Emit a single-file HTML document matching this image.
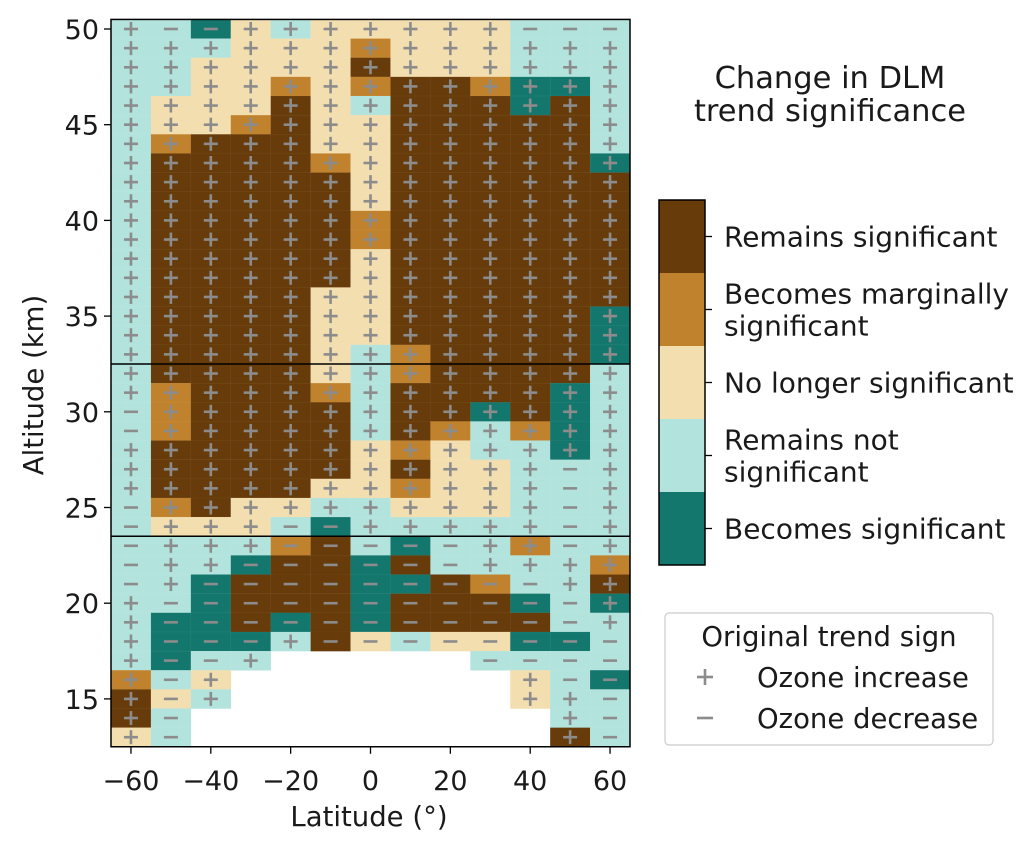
<!DOCTYPE html>
<html><head><meta charset="utf-8"><style>
body{margin:0;background:#fff;}
svg text{font-family:"DejaVu Sans","Liberation Sans",sans-serif;fill:#1a1a1a;}
</style></head><body>
<svg id="chart" width="1033" height="848" viewBox="0 0 1033 848"></svg>
<script>
const latitudes = [-60,-50,-40,-30,-20,-10,0,10,20,30,40,50,60];
const altitudes = [50,49,48,47,46,45,44,43,42,41,40,39,38,37,36,35,34,33,32,31,30,29,28,27,26,25,24,23,22,21,20,19,18,17,16,15,14,13];
const cellRows = [
"R+ R- B- N+ R+ N+ N+ N+ N+ N+ R- R- R-",
"R+ R+ R+ N+ N+ N+ M+ N+ N+ N+ R+ R+ R+",
"R+ R+ N+ N+ N+ N+ D+ N+ N+ N+ R+ R+ R+",
"R+ R+ N+ N+ M+ N+ M+ D+ D+ M+ B+ B+ R+",
"R+ N+ N+ N+ D+ N+ R+ D+ D+ D+ B+ D+ R+",
"R+ N+ N+ M+ D+ N+ N+ D+ D+ D+ D+ D+ R+",
"R+ M+ D+ D+ D+ N+ N+ D+ D+ D+ D+ D+ R+",
"R+ D+ D+ D+ D+ M+ N+ D+ D+ D+ D+ D+ B+",
"R+ D+ D+ D+ D+ D+ N+ D+ D+ D+ D+ D+ D+",
"R+ D+ D+ D+ D+ D+ N+ D+ D+ D+ D+ D+ D+",
"R+ D+ D+ D+ D+ D+ M+ D+ D+ D+ D+ D+ D+",
"R+ D+ D+ D+ D+ D+ M+ D+ D+ D+ D+ D+ D+",
"R+ D+ D+ D+ D+ D+ N+ D+ D+ D+ D+ D+ D+",
"R+ D+ D+ D+ D+ D+ N+ D+ D+ D+ D+ D+ D+",
"R+ D+ D+ D+ D+ N+ N+ D+ D+ D+ D+ D+ D+",
"R+ D+ D+ D+ D+ N+ N+ D+ D+ D+ D+ D+ B+",
"R+ D+ D+ D+ D+ N+ N+ D+ D+ D+ D+ D+ B+",
"R+ D+ D+ D+ D+ N+ R+ M+ D+ D+ D+ D+ B+",
"R+ D+ D+ D+ D+ N+ R+ M+ D+ D+ D+ D+ R+",
"R+ M+ D+ D+ D+ M+ R+ D+ D+ D+ D+ B+ R+",
"R- M+ D+ D+ D+ D+ R+ D+ D+ B+ D+ B+ R+",
"R- M+ D+ D+ D+ D+ R+ D+ M+ R+ M+ B+ R+",
"R+ D+ D+ D+ D+ D+ N+ M+ N+ R+ R+ B+ R+",
"R+ D+ D+ D+ D+ D+ N+ D+ N+ N+ R+ R- R+",
"R+ D+ D+ D+ D+ N+ N+ M+ N+ N+ R+ R- R+",
"R- M+ D+ N+ N+ R+ R+ N+ N+ N+ R+ R- R+",
"R- N+ N+ N+ R- B- R+ R+ R+ R+ R+ R- R+",
"R- R+ R+ R+ M- D- R- B- R- R+ M+ R- R+",
"R- R+ R+ B- D- D- B- D- R- R+ R+ R+ M+",
"R- R+ B- D- D- D- B- B- D- M- R- R+ D+",
"R+ R- B- D- D- D- B- D- D- D- B- R- B+",
"R+ B- B- D- B- D- B- D- D- D- D- R- R+",
"R+ B- B- B- R+ D- N- R- N- N- B- B- R-",
"R+ B- R- R+ __ __ __ __ __ R- R- R- R-",
"M+ R- N+ __ __ __ __ __ __ __ N+ R- B-",
"D+ N- R+ __ __ __ __ __ __ __ N+ R+ R-",
"D+ R- __ __ __ __ __ __ __ __ __ R+ R-",
"N+ R- __ __ __ __ __ __ __ __ __ D+ R-"
];
const xTicks = [-60,-40,-20,0,20,40,60];
const yTicks = [15,20,25,30,35,40,45,50];
const legendLabels = [["Remains significant"],["Becomes marginally","significant"],["No longer significant"],["Remains not","significant"],["Becomes significant"]];
const legendCodes = ["D","M","N","R","B"];
const colors = {D:"#673b0a",M:"#c0822d",N:"#f3deaf",R:"#b3e3dd",B:"#14776d"};

const NS="http://www.w3.org/2000/svg";
const svg=document.getElementById('chart');
function mk(tag,attrs,parent){const e=document.createElementNS(NS,tag);for(const k in attrs)e.setAttribute(k,attrs[k]);(parent||svg).appendChild(e);return e;}
const X0=111,X1=630,LAT0=-65,LAT1=65;
const xs=v=>X0+(v-LAT0)/(LAT1-LAT0)*(X1-X0);
const ys=v=>29+(50-v)*19.14;
const gCells=mk('g',{});


cellRows.forEach((row,ri)=>{
  row.split(' ').forEach((tok,ci)=>{
    if(tok==='__')return;
    const lat=latitudes[ci],alt=altitudes[ri];
    const x=xs(lat-5),y=ys(alt+0.5),w=xs(lat+5)-x,h=ys(alt-0.5)-y;
    const r=mk('rect',{x:x,y:y,width:w+0.3,height:h+0.3,fill:colors[tok[0]],stroke:'rgba(255,255,255,0.08)','stroke-width':0.5},gCells);
    
    
    const cx=xs(lat),cy=ys(alt);
    mk('line',{x1:cx-7,y1:cy,x2:cx+7,y2:cy,stroke:'#8c8c8c','stroke-width':2.6},gCells);
    if(tok[1]==='+')mk('line',{x1:cx,y1:cy-7,x2:cx,y2:cy+7,stroke:'#8c8c8c','stroke-width':2.6},gCells);
  });
});
[32.5,23.5].forEach(a=>{const l=mk('line',{x1:X0,x2:X1,y1:ys(a),y2:ys(a),stroke:'#000','stroke-width':1.5});
});
const frame=mk('rect',{x:X0,y:ys(50.5),width:X1-X0,height:ys(12.5)-ys(50.5),fill:'none',stroke:'#000','stroke-width':1.5});

xTicks.forEach(t=>{const x=xs(t);mk('line',{x1:x,x2:x,y1:ys(12.5),y2:ys(12.5)+7,stroke:'#000','stroke-width':1.3});
const tx=mk('text',{x:x,y:790,'text-anchor':'middle','font-size':27});tx.textContent=(t<0?'\u2212'+(-t):t);
});
yTicks.forEach(t=>{const y=ys(t);mk('line',{x1:X0-7,x2:X0,y1:y,y2:y,stroke:'#000','stroke-width':1.3});
const tx=mk('text',{x:99,y:y+10,'text-anchor':'end','font-size':27});tx.textContent=t;
});
const xt=mk('text',{x:369,y:826,'text-anchor':'middle','font-size':27.5});xt.textContent='Latitude (°)';

const yt=mk('text',{x:0,y:0,'text-anchor':'middle','font-size':27.5,transform:'translate(43,385) rotate(-90)'});yt.textContent='Altitude (km)';

const t1=mk('text',{x:830,y:88,'text-anchor':'middle','font-size':30.5});t1.textContent='Change in DLM';

const t2=mk('text',{x:830,y:121,'text-anchor':'middle','font-size':30.5});t2.textContent='trend significance';

const CB0=200,CBH=73;
legendCodes.forEach((c,i)=>{const y=CB0+i*CBH;
const r=mk('rect',{x:659,y:y,width:46,height:CBH,fill:colors[c]});
const cy=y+CBH/2;mk('line',{x1:705,x2:712,y1:cy,y2:cy,stroke:'#000','stroke-width':1.3});
const lines=legendLabels[i];lines.forEach((s,j)=>{const t=mk('text',{x:724,y:cy+10+(j-(lines.length-1)/2)*32,'font-size':28});t.textContent=s;
});});
mk('rect',{x:659,y:CB0,width:46,height:CBH*5,fill:'none',stroke:'#000','stroke-width':1.5});
const lb=mk('rect',{x:665,y:613,width:328,height:132,rx:4,fill:'#fff',stroke:'#ccc','stroke-width':1.2});

const lt=mk('text',{x:829,y:646,'text-anchor':'middle','font-size':27.5});lt.textContent='Original trend sign';

[['+','Ozone increase',677],['-','Ozone decrease',718]].forEach(([s,lab,cy])=>{
mk('line',{x1:697,x2:713,y1:cy,y2:cy,stroke:'#8c8c8c','stroke-width':2.6});
if(s==='+')mk('line',{x1:705,x2:705,y1:cy-8,y2:cy+8,stroke:'#8c8c8c','stroke-width':2.6});
const t=mk('text',{x:757,y:cy+10,'font-size':27.5});t.textContent=lab;
});
</script>
</body></html>
